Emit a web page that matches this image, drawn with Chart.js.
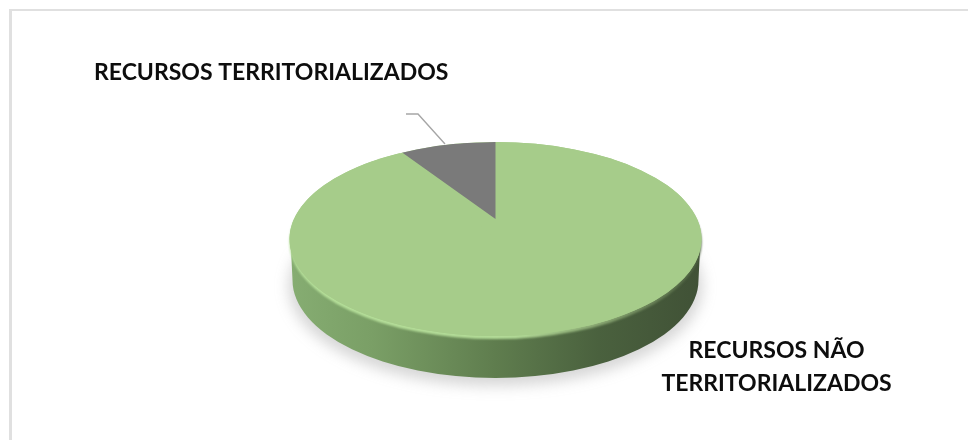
<!DOCTYPE html>
<html>
<head>
<meta charset="utf-8">
<style>
html,body{margin:0;padding:0;background:#fff}
#frame{position:absolute;left:9px;top:9px;width:959px;height:431px;border-left:3px solid #e0e0e0;border-top:2px solid #e0e0e0;box-sizing:border-box}
canvas{position:absolute;left:0;top:0}
</style>
<script src="https://cdn.jsdelivr.net/npm/chart.js@4"></script>
</head>
<body>
<div id="frame"></div>
<canvas id="pie" width="968" height="440"></canvas>
<script>
const categories = ['RECURSOS NÃO TERRITORIALIZADOS', 'RECURSOS TERRITORIALIZADOS'];
const shares = [92.3, 7.7];
const sliceColors = ['#a6cc8a', '#7a7a7a'];

// Projected geometry of the tilted disc
const face = {cx: 495.5, cy: 239, rx: 206, ry: 97};
const wedgeTip = {x: 495.5, y: 219};
const depth = 41;

function drawBody(ctx) {
  const {cx, cy, rx, ry} = face;
  // Soft ground shadow
  ctx.save();
  ctx.filter = 'blur(7px)';
  ctx.fillStyle = 'rgba(120,120,120,0.3)';
  ctx.beginPath();
  ctx.ellipse(cx, cy + depth + 6, rx + 1, ry + 3, 0, 0, Math.PI * 2);
  ctx.fill();
  ctx.restore();

  // Cylinder wall
  const wall = ctx.createLinearGradient(cx - rx, 0, cx + rx, 0);
  wall.addColorStop(0, '#86ad72');
  wall.addColorStop(0.2, '#7a9f66');
  wall.addColorStop(0.5, '#5f7d4e');
  wall.addColorStop(0.75, '#4a613e');
  wall.addColorStop(1, '#405136');
  ctx.fillStyle = wall;
  ctx.beginPath();
  ctx.ellipse(cx, cy, rx - 1, ry, 0, Math.PI, 0, true);
  ctx.lineTo(cx + rx - 3, cy + depth);
  ctx.ellipse(cx, cy + depth, rx - 3, ry + 1, 0, 0, Math.PI);
  ctx.closePath();
  ctx.fill();

  // Bevel around the front of the face
  const rim = ctx.createLinearGradient(cx - rx, 0, cx + rx, 0);
  rim.addColorStop(0, '#b6e09a');
  rim.addColorStop(0.55, '#b2da97');
  rim.addColorStop(0.75, '#8aa873');
  rim.addColorStop(1, '#4d6140');
  ctx.save();
  ctx.filter = 'blur(1px)';
  ctx.fillStyle = rim;
  ctx.beginPath();
  ctx.ellipse(cx, cy + 3, rx, ry, 0, 0, Math.PI * 2);
  ctx.fill();
  ctx.restore();

  // Flat base under the slices so the apex of the far slice has no seam
  ctx.fillStyle = sliceColors[0];
  ctx.beginPath();
  ctx.ellipse(cx, cy, rx, ry, 0, 0, Math.PI * 2);
  ctx.fill();
}

function drawLabels(ctx) {
  ctx.save();
  ctx.fillStyle = '#0d0d0d';
  ctx.font = 'bold 23px Lato';
  ctx.textBaseline = 'alphabetic';
  ctx.textAlign = 'left';
  ctx.fillText(categories[1], 94, 80);
  const words = categories[0].split(' ');
  ctx.textAlign = 'center';
  ctx.fillText(words.slice(0, 2).join(' '), 776.5, 358);
  ctx.fillText(words[2], 776.5, 391);

  // Leader line for the small slice
  ctx.strokeStyle = '#a6a6a6';
  ctx.lineWidth = 1.4;
  ctx.beginPath();
  ctx.moveTo(406, 114);
  ctx.lineTo(418, 114);
  ctx.lineTo(445, 144);
  ctx.stroke();
  ctx.restore();
}

const tiltedPie = {
  id: 'tiltedPie',
  beforeDatasetDraw(chart, args) {
    const ctx = chart.ctx;
    const arcs = args.meta.data;
    drawBody(ctx);
    arcs.forEach((arc, i) => {
      const R = arc.outerRadius;
      ctx.save();
      if (i === 0) {
        ctx.translate(face.cx, face.cy);
        ctx.scale(face.rx / R, face.ry / R);
      } else {
        // The far slice converges on the foreshortened apex of the disc
        ctx.beginPath();
        ctx.ellipse(face.cx, face.cy, face.rx, face.ry, 0, 0, Math.PI * 2);
        ctx.clip();
        ctx.translate(wedgeTip.x, wedgeTip.y);
        ctx.scale(face.rx / R, (wedgeTip.y - face.cy + face.ry) / R);
      }
      ctx.translate(-arc.x, -arc.y);
      arc.draw(ctx);
      ctx.restore();
    });
    return false;
  },
  afterDraw(chart) {
    drawLabels(chart.ctx);
  }
};

new Chart(document.getElementById('pie'), {
  type: 'pie',
  data: {
    labels: categories,
    datasets: [{data: shares, backgroundColor: sliceColors, borderWidth: 0}]
  },
  options: {
    responsive: false,
    animation: false,
    plugins: {legend: {display: false}, tooltip: {enabled: false}}
  },
  plugins: [tiltedPie]
});
</script>
</body>
</html>
